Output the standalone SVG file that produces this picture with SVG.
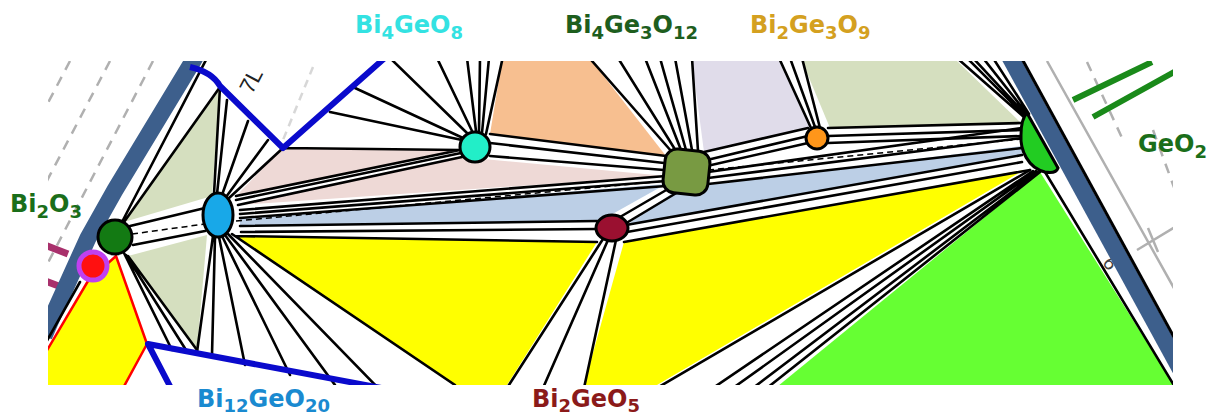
<svg xmlns="http://www.w3.org/2000/svg" width="1209" height="419" viewBox="0 0 1209 419">
<style>
.lbl{font-family:"DejaVu Sans",Verdana,sans-serif;font-weight:bold;font-size:24px}
.tie{fill:none;stroke:#000;stroke-width:2.6;stroke-linecap:round}
.node{stroke:#000;stroke-width:3}
.grey{fill:none;stroke:#b0b0b0;stroke-width:2.5}
.dash{stroke-dasharray:10 8}
.blue{fill:none;stroke:#0a0acc;stroke-width:6;stroke-linejoin:round}
.sage{fill:#d5dfbf}.pink{fill:#eed9d6}.orange{fill:#f7bf90}.lav{fill:#e0dcea}.lb{fill:#bccfe6}.yel{fill:#ffff00}
</style>
<defs><clipPath id="cp"><rect x="48" y="61" width="1125" height="324"/></clipPath></defs>
<rect width="1209" height="419" fill="#fff"/>
<g clip-path="url(#cp)">
  <g id="background">
    <path class="grey dash" d="M70,61 L40,118 M110,61 L40,194 M153,61 L40,278"/>
    <path class="grey" stroke-width="1.5" d="M313,67 L283,140" stroke-dasharray="8 6" opacity="0.5"/>
    <path class="grey" d="M1047,61 L1175,290 M1137,250 L1175,227 M1148,228 L1158,252"/>
    <path class="grey dash" d="M1087,62 L1123,140 M1153,130 L1175,190"/>
    <path d="M1073,100 L1152,62 M1093,117 L1176,71" stroke="#1a8a1a" stroke-width="6" fill="none"/>
    <path d="M40,243 L68,254 M40,279 L64,288" stroke="#a8306c" stroke-width="7" fill="none"/>
    <text transform="translate(252,95) rotate(-62)" font-family="Liberation Sans,sans-serif" font-size="22" fill="#222">7L</text>
    <text transform="translate(1102,262) rotate(60)" font-family="Liberation Sans,sans-serif" font-size="20" fill="#444">6</text>
  </g>
  <g id="regions">
    <polygon class="sage" points="220,87 212,196 124,222"/>
    <polygon class="sage" points="128,256 207,235 197,350"/>
    <polygon class="pink" points="283,148 460,150 236,196"/>
    <polygon class="pink" points="238,205 462,157 666,176"/>
    <polygon class="orange" points="502,61 592,61 666,156 490,134"/>
    <polygon class="lav" points="692,61 779,61 810,128 704,152"/>
    <polygon class="sage" points="802,61 957,61 1022,124 830,128"/>
    <polygon class="lb" points="240,218 666,184 600,221 240,226"/>
    <polygon class="lb" points="680,188 1022,146 1022,155 625,226"/>
    <polygon class="yel" points="235,236 597,242 507,385 455,385"/>
    <polygon class="yel" points="624,242 1024,170 657,385 584,385"/>
    <polygon class="yel" points="88,281 46,352 46,390 122,390 147,344 116,256" stroke="#ff0000" stroke-width="2.5"/>
    <polygon points="1040,172 1180,395 767,395" fill="#66ff33"/>
  </g>
  <g id="borders">
    <path d="M200,48 L193,61 L115,190 L88,238 L50,322 L44,336" fill="none" stroke="#3d5f8c" stroke-width="17"/>
    <path d="M1005,48 L1182,372" fill="none" stroke="#3d5f8c" stroke-width="17"/>
    <path d="M1015,46 L1193,372" fill="none" stroke="#000" stroke-width="3"/>
  </g>
  <g id="connectors">
    <path class="tie" d="M122,222 L207,58 M124,222 L220,87 M130,226 L205,208 M133,245 L205,231 M124,253 L172,350 M126,255 L186,350 M128,256 L197,350 M80,282 L44,346"/>
    <path class="tie" d="M214,194 L220,87 M217,194 L227,100 M222,195 L248,121 M226,197 L268,140 M228,199 L283,148
      M236,196 L460,150 M236,200 L461,153 M238,205 L462,157 M283,148 L460,150
      M240,210 L666,176 M240,214 L666,181 M240,218 L666,186
      M240,226 L597,221 M241,232 L597,229 M235,236 L597,242
      M213,236 L197,352 M215,237 L212,355 M219,237 L245,365 M222,236 L290,375 M225,235 L335,385 M228,234 L382,392 M232,234 L455,385"/>
    <path class="tie" d="M462,140 L330,112 M463,138 L355,88 M467,133 L390,58 M472,131 L437,58 M476,131 L467,58 M479,132 L480,58 M482,133 L489,58 M486,134 L502,61
      M490,134 L666,156 M490,143 L664,163 M490,156 L664,170"/>
    <path class="tie" d="M672,152 L592,61 M676,151 L618,58 M681,150 L645,58 M686,150 L660,58 M692,150 L675,58 M698,151 L692,58
      M704,152 L808,128 M707,160 L808,136 M707,166 L808,143
      M708,172 L1022,128 M708,178 L1022,138 M708,184 L1022,148
      M668,189 L620,217 M678,192 L628,222"/>
    <path class="tie" d="M811,128 L779,58 M815,127 L790,58 M820,128 L802,58 M828,128 L1022,123 M828,136 L1022,130 M828,143 L1022,136"/>
    <path class="tie" d="M626,225 L1022,155 M627,232 L1022,162 M624,242 L1030,170 M603,239 L507,388 M608,240 L543,388 M616,240 L584,388"/>
    <path class="tie" d="M1025,118 L957,58 M1026,117 L967,58 M1027,116 L973,58 M1028,115 L983,58 M1029,114 L993,58
      M1030,170 L657,388 M1033,171 L713,388 M1036,171 L733,388 M1038,172 L753,388 M1040,172 L767,388 M1045,172 L1178,392"/>
    <path fill="none" stroke="#000" stroke-width="1.5" stroke-dasharray="6 4" d="M132,234 L205,224 M236,221 L665,181 M708,170 L1022,139"/>
    <path class="blue" d="M190,67 Q212,72 220,86 L283,148 L387,56"/>
    <path class="blue" d="M173,392 L148,344 L392,390"/>
  </g>
</g>
<g id="node-Bi2O3">
  <circle class="node" cx="115" cy="237" r="17" fill="#137a13"/>
  <text class="lbl" x="10" y="212" fill="#1a6e1a">Bi<tspan dy="6" font-size="18">2</tspan><tspan dy="-6">O</tspan><tspan dy="6" font-size="18">3</tspan></text>
</g>
<g id="node-Bi2O3-red">
  <circle cx="93" cy="266" r="14" fill="#ff1010" stroke="#c040f0" stroke-width="5"/>
</g>
<g id="node-Bi12GeO20">
  <ellipse class="node" cx="218" cy="215" rx="15" ry="22" fill="#18a8e8"/>
  <text class="lbl" x="197" y="407" fill="#1a8ad0">Bi<tspan dy="5" font-size="18">12</tspan><tspan dy="-5">GeO</tspan><tspan dy="5" font-size="18">20</tspan></text>
</g>
<g id="node-Bi4GeO8">
  <circle class="node" cx="475" cy="147" r="15" fill="#22eec8"/>
  <text class="lbl" x="355" y="33" fill="#33e2e2">Bi<tspan dy="6" font-size="18">4</tspan><tspan dy="-6">GeO</tspan><tspan dy="6" font-size="18">8</tspan></text>
</g>
<g id="node-Bi4Ge3O12">
  <rect class="node" x="664" y="150" width="45" height="44" rx="12" fill="#789a42" transform="rotate(6 686 172)"/>
  <text class="lbl" x="565" y="33" fill="#1e5e1e">Bi<tspan dy="6" font-size="18">4</tspan><tspan dy="-6">Ge</tspan><tspan dy="6" font-size="18">3</tspan><tspan dy="-6">O</tspan><tspan dy="6" font-size="18">12</tspan></text>
</g>
<g id="node-Bi2Ge3O9">
  <circle class="node" cx="817" cy="138" r="11" fill="#ff961a"/>
  <text class="lbl" x="750" y="33" fill="#d4a020">Bi<tspan dy="6" font-size="18">2</tspan><tspan dy="-6">Ge</tspan><tspan dy="6" font-size="18">3</tspan><tspan dy="-6">O</tspan><tspan dy="6" font-size="18">9</tspan></text>
</g>
<g id="node-Bi2GeO5">
  <ellipse class="node" cx="612" cy="228" rx="16" ry="13" fill="#9a1030"/>
  <text class="lbl" x="532" y="407" fill="#8b1a1a">Bi<tspan dy="5" font-size="18">2</tspan><tspan dy="-5">GeO</tspan><tspan dy="5" font-size="18">5</tspan></text>
</g>
<g id="node-GeO2">
  <path class="node" d="M1027,113 L1058,168 Q1056,174 1045,172 C1028,168 1020,150 1021,135 C1021,124 1024,116 1027,113 Z" fill="#22cc22"/>
  <text class="lbl" x="1138" y="152" fill="#1a6e1a">GeO<tspan dy="6" font-size="18">2</tspan></text>
</g>
</svg>
